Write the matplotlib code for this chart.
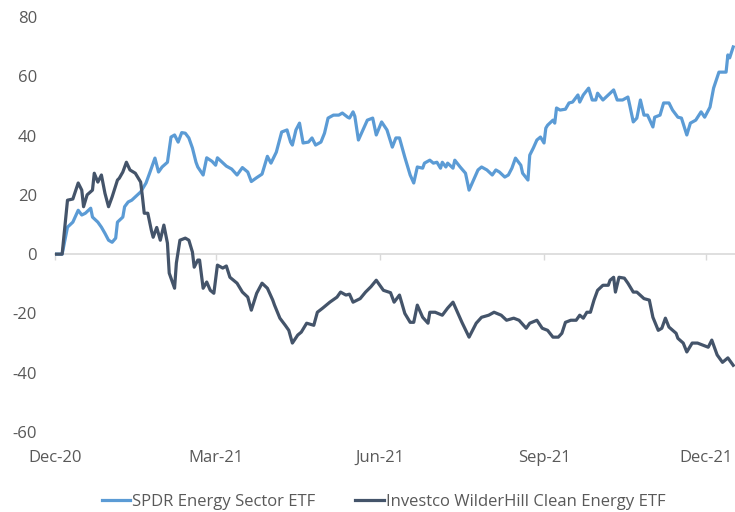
import matplotlib
matplotlib.use("Agg")
import matplotlib.pyplot as plt
import matplotlib.dates as mdates
import pandas as pd

# Cumulative performance (%) since the start of December 2020
start_date = "2020-12-01"

spdr_label = "SPDR Energy Sector ETF"
spdr_days = [0, 4, 7, 10, 13, 15, 17, 20, 21, 24, 26, 28, 30, 32, 34, 35, 38, 39,
             41, 43, 45, 48, 51, 53, 56, 58, 60, 63, 65, 67, 69, 71, 73, 75, 77,
             79, 80, 83, 85, 88, 90, 91, 94, 96, 99, 102, 105, 108, 110, 113, 116,
             119, 121, 124, 127, 130, 132, 133, 135, 137, 139, 142, 144, 146, 149,
             151, 153, 156, 159, 161, 164, 165, 167, 168, 170, 173, 175, 178, 180,
             183, 186, 189, 191, 193, 196, 199, 201, 203, 206, 207, 210, 212, 214,
             216, 217, 219, 220, 223, 224, 227, 230, 232, 234, 237, 239, 242, 245,
             247, 249, 252, 254, 256, 258, 261, 262, 265, 266, 268, 270, 272, 274,
             275, 276, 279, 280, 281, 283, 286, 288, 290, 293, 294, 296, 299, 301,
             303, 304, 307, 310, 313, 315, 318, 321, 322, 324, 326, 328, 330, 332,
             335, 336, 339, 341, 344, 346, 349, 351, 354, 356, 359, 362, 364, 367,
             369, 372, 376, 377, 378, 380]
spdr_values = [0, 0, 9.1, 10.8, 14.8, 13.2, 13.8, 15.5, 12.5, 10.8, 9.1, 7.0, 4.7,
               4.0, 5.4, 10.8, 12.5, 16.0, 17.6, 18.2, 19.3, 21.0, 24.0, 27.3, 32.4,
               27.7, 29.4, 31.0, 39.5, 40.2, 37.8, 41.0, 40.8, 39.2, 35.8, 31.0, 29.4,
               26.7, 32.5, 31.3, 30.0, 32.5, 30.8, 29.7, 28.7, 26.7, 29.2, 27.7, 24.5,
               25.8, 27.0, 33.0, 30.7, 34.4, 41.2, 41.9, 37.8, 36.8, 41.9, 44.2, 37.5,
               37.8, 39.2, 36.8, 37.8, 40.8, 45.9, 46.9, 46.9, 47.6, 46.2, 45.9, 48.0,
               46.5, 38.5, 42.5, 45.2, 45.9, 40.2, 44.6, 41.9, 36.1, 39.2, 39.2, 32.7,
               26.7, 24.0, 29.4, 29.0, 30.7, 31.7, 30.7, 31.0, 29.0, 31.0, 29.4, 30.7,
               29.0, 31.7, 29.4, 27.3, 21.6, 24.3, 28.4, 29.4, 28.4, 26.7, 28.4, 27.7,
               26.0, 26.7, 29.0, 32.4, 30.0, 27.3, 25.0, 33.4, 35.8, 38.5, 39.5, 37.5,
               42.5, 43.5, 45.2, 44.2, 49.3, 48.6, 48.9, 51.0, 51.3, 53.7, 51.3, 53.7,
               56.0, 52.0, 52.0, 54.3, 52.0, 53.7, 55.4, 52.0, 52.0, 53.0, 50.3, 44.6,
               45.9, 52.0, 46.9, 46.9, 42.9, 46.2, 46.9, 51.0, 51.0, 48.6, 46.2, 45.9,
               40.2, 44.2, 45.2, 48.0, 46.2, 49.6, 56.0, 61.4, 61.4, 67.2, 66.2, 69.9]

pbw_label = "Investco WilderHill Clean Energy ETF"
pbw_days = [0, 4, 7, 10, 13, 15, 16, 18, 21, 22, 24, 26, 28, 30, 32, 35, 36, 38, 40,
            42, 45, 48, 49, 50, 52, 54, 55, 57, 59, 61, 63, 64, 66, 67, 68, 70, 73,
            75, 77, 78, 80, 81, 83, 85, 87, 89, 91, 94, 96, 98, 102, 105, 108, 110,
            113, 116, 119, 122, 123, 126, 129, 131, 133, 136, 138, 141, 145, 147, 150,
            154, 158, 160, 163, 165, 167, 171, 174, 177, 180, 184, 188, 190, 193, 196,
            199, 201, 203, 206, 209, 210, 213, 217, 220, 223, 225, 228, 232, 236, 239,
            243, 246, 250, 253, 257, 260, 264, 266, 270, 273, 276, 279, 282, 284, 286,
            289, 292, 294, 296, 298, 300, 302, 304, 307, 310, 311, 313, 314, 316, 319,
            321, 324, 326, 330, 333, 335, 338, 340, 342, 344, 348, 349, 352, 354, 357,
            360, 363, 366, 368, 371, 374, 377, 380]
pbw_values = [0, 0, 18.2, 18.6, 24.0, 21.6, 16.0, 20.0, 21.6, 27.3, 24.3, 26.7, 20.5,
              16.0, 19.3, 25.0, 25.6, 27.7, 31.0, 28.4, 27.3, 24.3, 19.3, 13.8, 13.8,
              8.0, 5.7, 9.0, 4.7, 9.8, 3.7, -6.4, -9.8, -11.5, -3.0, 4.7, 5.4, 4.7,
              0.7, -4.4, -2.0, -2.0, -11.5, -9.4, -12.2, -13.2, -3.7, -4.7, -4.0,
              -7.8, -9.8, -12.8, -14.5, -18.9, -13.2, -9.8, -11.5, -15.5, -17.2,
              -21.6, -24.0, -25.7, -30.0, -27.3, -26.3, -23.3, -24.0, -19.6, -18.2,
              -16.2, -14.5, -12.8, -13.8, -13.5, -16.2, -15.0, -12.8, -11.0, -8.8,
              -12.2, -13.0, -16.2, -13.8, -20.0, -23.0, -23.0, -17.2, -21.3, -23.3,
              -19.6, -19.6, -20.6, -18.2, -16.2, -18.9, -23.0, -28.0, -23.3, -21.3,
              -20.6, -19.6, -20.6, -22.3, -21.6, -22.3, -25.0, -23.3, -22.3, -25.0,
              -25.7, -28.0, -28.0, -26.7, -23.0, -22.3, -22.3, -20.6, -21.6, -19.6,
              -19.6, -15.5, -12.2, -10.5, -10.5, -8.8, -7.8, -12.8, -7.8, -8.1, -9.8,
              -12.8, -12.8, -15.0, -15.5, -21.3, -25.7, -25.0, -21.6, -24.6, -26.7,
              -28.4, -30.0, -33.0, -30.0, -30.0, -30.7, -31.4, -29.0, -34.0, -36.5,
              -35.0, -37.5]

y_ticks = [-60, -40, -20, 0, 20, 40, 60, 80]
x_tick_dates = ["2020-12-01", "2021-03-01", "2021-06-01", "2021-09-01", "2021-12-01"]
x_span_days = 381

SPDR_COLOR = "#5B9BD5"
PBW_COLOR = "#44546A"
TEXT_COLOR = "#595959"
AXIS_COLOR = "#D9D9D9"

plt.rcParams["font.family"] = ["Open Sans", "DejaVu Sans"]

t0 = pd.Timestamp(start_date)
spdr_x = t0 + pd.to_timedelta(spdr_days, unit="D")
pbw_x = t0 + pd.to_timedelta(pbw_days, unit="D")
tick_x = mdates.date2num(pd.to_datetime(x_tick_dates))

fig = plt.figure(figsize=(7.35, 5.12), dpi=100)
ax = fig.add_axes([55 / 735, 1 - 432 / 512, 680 / 735, 415 / 512])

ax.plot(spdr_x, spdr_values, color=SPDR_COLOR, lw=2.3, label=spdr_label,
        solid_joinstyle="round", zorder=3)
ax.plot(pbw_x, pbw_values, color=PBW_COLOR, lw=2.3, label=pbw_label,
        solid_joinstyle="round", zorder=4)

ax.set_xlim(t0, t0 + pd.Timedelta(days=x_span_days))
ax.set_ylim(y_ticks[0], y_ticks[-1])

for side in ("top", "right", "left"):
    ax.spines[side].set_visible(False)
ax.spines["bottom"].set_position(("data", 0))
ax.spines["bottom"].set_color(AXIS_COLOR)
ax.spines["bottom"].set_linewidth(1.2)
ax.spines["bottom"].set_zorder(1)

ax.set_xticks(tick_x)
ax.tick_params(axis="x", direction="out", length=4, width=1, color=AXIS_COLOR,
               labelbottom=False)

ax.set_yticks(y_ticks)
ax.set_yticklabels([str(v) for v in y_ticks])
ax.tick_params(axis="y", length=0, pad=13, labelsize=12, labelcolor=TEXT_COLOR)

# date labels sit along the bottom of the plot area
sec = ax.secondary_xaxis(0)
sec.set_xticks(tick_x)
sec.xaxis.set_major_formatter(mdates.DateFormatter("%b-%y"))
sec.tick_params(length=0, pad=13, labelsize=12, labelcolor=TEXT_COLOR)
sec.spines["bottom"].set_visible(False)

fig.legend(loc="center", bbox_to_anchor=(383.5 / 735, 1 - 502 / 512), ncol=2,
           frameon=False, fontsize=12, labelcolor=TEXT_COLOR, handlelength=1.7,
           handletextpad=0.12, columnspacing=2.4)

fig.savefig("out.png", dpi=100)
